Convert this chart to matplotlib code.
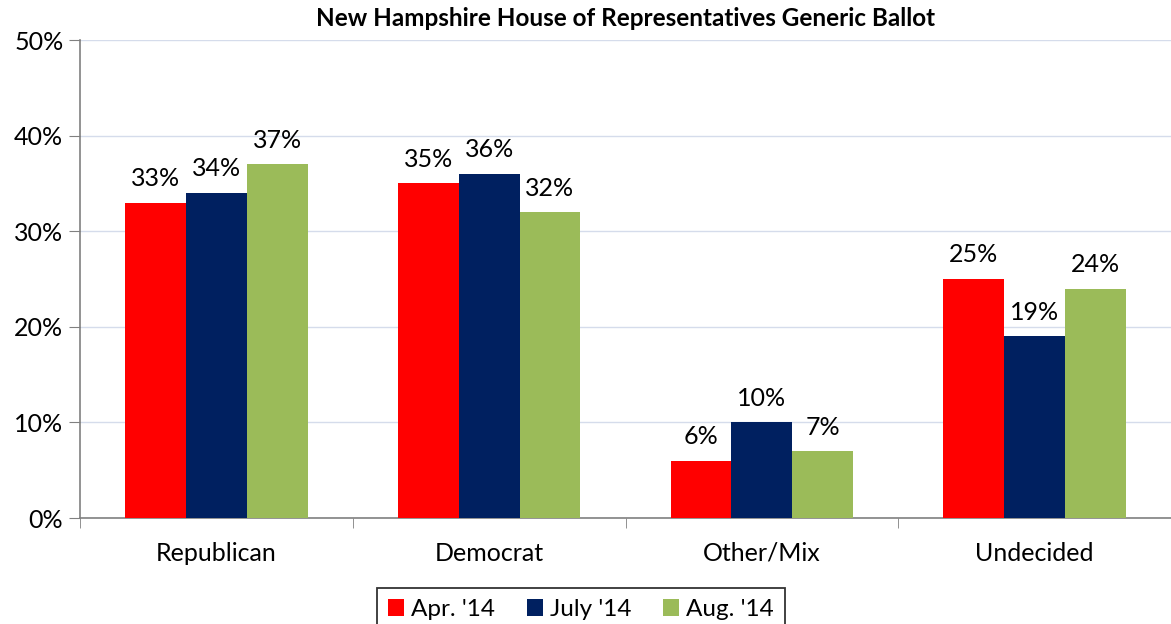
from matplotlib import pyplot as plt
import numpy as np

# Data
categories = ["Republican", "Democrat", "Other/Mix", "Undecided"]
series_names = ["Apr. '14", "July '14", "Aug. '14"]
apr_14 = [33, 35, 6, 25]
july_14 = [34, 36, 10, 19]
aug_14 = [37, 32, 7, 24]
colors = ["#ff0000", "#002060", "#9bbb59"]

plt.rcParams['font.family'] = ['Lato', 'DejaVu Sans']

fig = plt.figure(figsize=(11.71, 6.24), dpi=100)
ax = fig.add_axes([80 / 1171, 1 - 518 / 624, 1 - 80 / 1171, (518 - 40) / 624])

x = np.arange(len(categories))
width = 0.223
for i, (vals, name) in enumerate(zip([apr_14, july_14, aug_14], series_names)):
    pos = x + (i - 1) * width
    ax.bar(pos, vals, width, color=colors[i], label=name, zorder=3)
    for px, v in zip(pos, vals):
        ax.annotate("{0}%".format(v), (px, v), xytext=(0, 9), textcoords='offset points',
                    ha='center', va='bottom', fontsize=18)

ax.set_xlim(-0.5, len(categories) - 0.5)
ax.set_ylim(0, 50)
ax.set_yticks(range(0, 51, 10))
ax.set_yticklabels(["{0}%".format(t) for t in range(0, 51, 10)], fontsize=18)
ax.set_xticks(x)
ax.set_xticklabels(categories, fontsize=18)
ax.tick_params(axis='x', length=0, pad=17)
ax.set_xticks(np.arange(-0.5, len(categories)), minor=True)
ax.tick_params(axis='x', which='minor', length=7, direction='out', color='#808080')
ax.tick_params(axis='y', length=8, direction='out', color='#808080', pad=4)
ax.grid(axis='y', color='#d5dceb', linewidth=1, zorder=0)
for s in ['top', 'right']:
    ax.spines[s].set_visible(False)
for s in ['left', 'bottom']:
    ax.spines[s].set_color('#808080')
    ax.spines[s].set_linewidth(1.2)

ax.set_title("New Hampshire House of Representatives Generic Ballot",
             fontsize=17.5, fontweight='bold', pad=10)

leg = fig.legend(loc='upper center', bbox_to_anchor=(581 / 1171, 1 - 576 / 624), ncol=3,
                 fontsize=17.5, frameon=True, fancybox=False, edgecolor='black',
                 handlelength=0.65, handleheight=0.65, handletextpad=0.3,
                 columnspacing=1.3, borderpad=0.45)
leg.get_frame().set_linewidth(1.3)

plt.savefig("out.png", dpi=100)
